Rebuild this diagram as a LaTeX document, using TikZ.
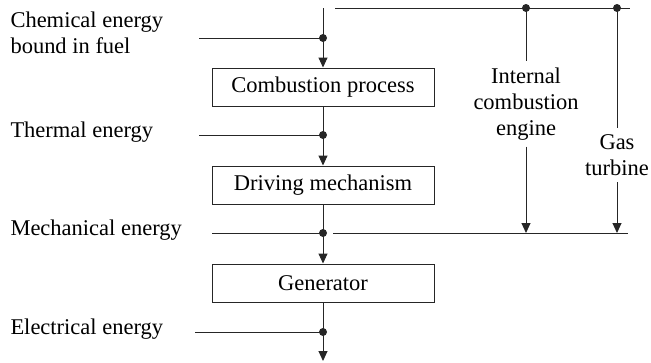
\documentclass[tikz,border=0pt]{standalone}
\usepackage{fontspec}
\setmainfont{Liberation Serif}
\usepackage{tikz}
\usetikzlibrary{arrows.meta}
\tikzset{
  stage node/.style={rectangle,draw,minimum width=222pt,minimum height=38pt,inner sep=0pt},
  energy label/.style={anchor=west,inner sep=0pt},
  side label/.style={align=center,inner sep=6pt},
  junction/.style={circle,fill,inner sep=0pt,minimum size=8pt}
}

\begin{document}
\begin{tikzpicture}[x=1pt,y=-1pt,line width=1pt,color=black!85,text=black,
        >={Triangle[length=10pt,width=9pt]},
        font=\fontsize{22.5}{26}\selectfont]
  \useasboundingbox (0,0) rectangle (651,362);
  % main chain
  \coordinate (top) at (323,8);
  \node [junction] (j1) at (323,38) {};
  \node [stage node] (comb) at (323,87) {Combustion process};
  \node [junction] (j2) at (323,135) {};
  \node [stage node] (drive) at (323,185) {Driving mechanism};
  \node [junction] (j3) at (323,233) {};
  \node [stage node] (gen) at (323,283) {Generator};
  \node [junction] (j4) at (323,332) {};
  \coordinate (out) at (323,361);
  % energy forms
  \node [energy label,anchor=north west,align=left] (chem) at (10,11.5) {Chemical energy\\bound in fuel};
  \node [energy label] (therm) at (10,132.5) {Thermal energy};
  \node [energy label] (mech) at (10,230.5) {Mechanical energy};
  \node [energy label] (elec) at (10,329.5) {Electrical energy};
  \coordinate (chem in) at (199,38);
  \coordinate (therm in) at (199,135);
  \coordinate (mech in) at (212,233);
  \coordinate (elec in) at (195,332);
  % bypass
  \coordinate (by start) at (335,8);
  \coordinate (by end) at (630,8);
  \node [junction] (ice top) at (526,8) {};
  \node [junction] (gt top) at (617,8) {};
  \node [side label] (ice) at (526,104) {Internal\\combustion\\engine};
  \node [side label] (gt) at (617,155) {Gas\\turbine};
  \coordinate (ice end) at (526,233);
  \coordinate (gt end) at (617,233);
  \coordinate (mech start) at (333,233);
  \coordinate (mech end) at (628,233);

  \draw[->] (top) -- (comb.north);
  \draw[->] (comb.south) -- (drive.north);
  \draw[->] (drive.south) -- (gen.north);
  \draw[->] (gen.south) -- (out);
  \draw (chem in) -- (j1.center);
  \draw (therm in) -- (j2.center);
  \draw (mech in) -- (j3.center);
  \draw (elec in) -- (j4.center);
  \draw (by start) -- (by end);
  \draw (mech start) -- (mech end);
  \draw (ice top.center) -- (ice.north);
  \draw[->] (ice.south) -- (ice end);
  \draw (gt top.center) -- (gt.north);
  \draw[->] (gt.south) -- (gt end);
\end{tikzpicture}
\end{document}
